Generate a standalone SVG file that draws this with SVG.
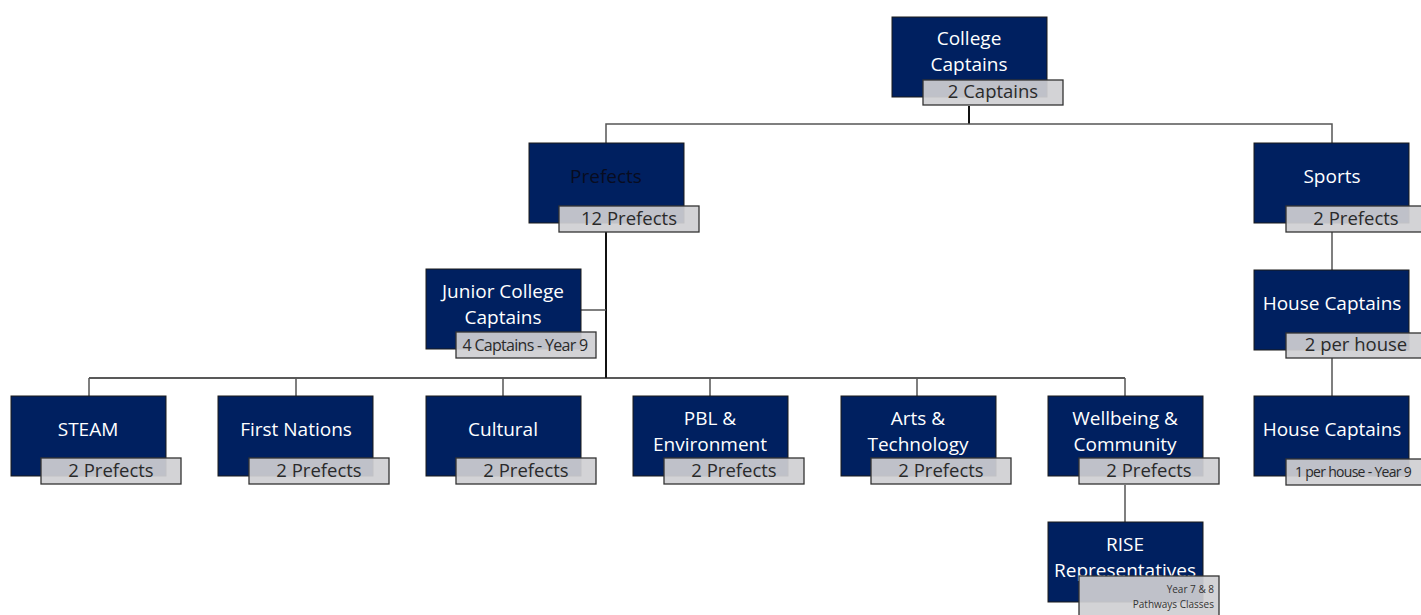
<svg xmlns="http://www.w3.org/2000/svg" width="1421" height="615" viewBox="0 0 1421 615">
<style>
.box{fill:#002060;stroke:#1a1a1a;stroke-width:1}
.lab{fill:#cfcfd2;fill-opacity:0.92;stroke:#333;stroke-width:1.3}
.t{font-family:"Open Sans","Liberation Sans",sans-serif;font-size:19px;fill:#fff;text-anchor:middle}
.l{font-family:"Open Sans","Liberation Sans",sans-serif;font-size:18.5px;fill:#2a2a2a;text-anchor:middle}
.s{font-family:"Open Sans","Liberation Sans",sans-serif;font-size:16px;fill:#2a2a2a;text-anchor:middle;letter-spacing:-0.7px}
.xs{font-family:"Open Sans","Liberation Sans",sans-serif;font-size:10px;fill:#333;text-anchor:end}
.c{fill:none;stroke:#555;stroke-width:1.5}
.k{fill:none;stroke:#111;stroke-width:2}
</style>
<g id="connectors">
<path class="k" d="M969 106V124"/>
<path class="c" d="M606 143V124H1332V143"/>
<path class="k" d="M606 232V378"/>
<path class="c" d="M580 310H606"/>
<path class="k" d="M89 378H1125" style="stroke-width:1.6;stroke:#222"/>
<path class="c" d="M89 378V396M296 378V396M503 378V396M710 378V396M917 378V396M1125 378V396"/>
<path class="c" d="M1125 485V522"/>
<path class="c" d="M1332 232V270M1332 358V396"/>
</g>
<g id="college-captains">
<rect class="box" x="892" y="17" width="155" height="80"/>
<text class="t" x="969" y="45">College</text>
<text class="t" x="969" y="71">Captains</text>
<rect class="lab" x="923" y="80" width="140" height="25"/>
<text class="l" x="993" y="98">2 Captains</text>
</g>
<g id="prefects">
<rect class="box" x="529" y="143" width="155" height="80"/>
<text class="t" x="606" y="183" style="fill:#080c20">Prefects</text>
<rect class="lab" x="559" y="206" width="140" height="26"/>
<text class="l" x="629" y="225">12 Prefects</text>
</g>
<g id="sports">
<rect class="box" x="1254" y="143" width="155" height="80"/>
<text class="t" x="1332" y="183">Sports</text>
<rect class="lab" x="1286" y="206" width="140" height="26"/>
<text class="l" x="1356" y="225">2 Prefects</text>
</g>
<g id="junior-college-captains">
<rect class="box" x="426" y="269" width="155" height="80"/>
<text class="t" x="503" y="298">Junior College</text>
<text class="t" x="503" y="324">Captains</text>
<rect class="lab" x="456" y="332" width="140" height="26"/>
<text class="s" x="525" y="351">4 Captains - Year 9</text>
</g>
<g id="house-captains-1">
<rect class="box" x="1254" y="270" width="155" height="80"/>
<text class="t" x="1332" y="310">House Captains</text>
<rect class="lab" x="1286" y="333" width="140" height="25"/>
<text class="l" x="1356" y="351">2 per house</text>
</g>
<g id="house-captains-2">
<rect class="box" x="1254" y="396" width="155" height="80"/>
<text class="t" x="1332" y="436">House Captains</text>
<rect class="lab" x="1286" y="459" width="140" height="26"/>
<text class="s" x="1353" y="477" style="font-size:14px;letter-spacing:-0.7px">1 per house - Year 9</text>
</g>
<g id="steam">
<rect class="box" x="11" y="396" width="155" height="80"/>
<text class="t" x="88" y="436">STEAM</text>
<rect class="lab" x="41" y="458" width="140" height="26"/>
<text class="l" x="111" y="477">2 Prefects</text>
</g>
<g id="first-nations">
<rect class="box" x="218" y="396" width="155" height="80"/>
<text class="t" x="296" y="436">First Nations</text>
<rect class="lab" x="249" y="458" width="140" height="26"/>
<text class="l" x="319" y="477">2 Prefects</text>
</g>
<g id="cultural">
<rect class="box" x="426" y="396" width="155" height="80"/>
<text class="t" x="503" y="436">Cultural</text>
<rect class="lab" x="456" y="458" width="140" height="26"/>
<text class="l" x="526" y="477">2 Prefects</text>
</g>
<g id="pbl-environment">
<rect class="box" x="633" y="396" width="155" height="80"/>
<text class="t" x="710" y="425">PBL &amp;</text>
<text class="t" x="710" y="451">Environment</text>
<rect class="lab" x="664" y="458" width="140" height="26"/>
<text class="l" x="734" y="477">2 Prefects</text>
</g>
<g id="arts-technology">
<rect class="box" x="841" y="396" width="155" height="80"/>
<text class="t" x="918" y="425">Arts &amp;</text>
<text class="t" x="918" y="451">Technology</text>
<rect class="lab" x="871" y="458" width="140" height="26"/>
<text class="l" x="941" y="477">2 Prefects</text>
</g>
<g id="wellbeing-community">
<rect class="box" x="1048" y="396" width="155" height="80"/>
<text class="t" x="1125" y="425">Wellbeing &amp;</text>
<text class="t" x="1125" y="451">Community</text>
<rect class="lab" x="1079" y="458" width="140" height="26"/>
<text class="l" x="1149" y="477">2 Prefects</text>
</g>
<g id="rise-representatives">
<rect class="box" x="1048" y="522" width="155" height="80"/>
<text class="t" x="1125" y="551">RISE</text>
<text class="t" x="1125" y="577">Representatives</text>
<rect class="lab" x="1079" y="576" width="140" height="44"/>
<text class="xs" x="1214" y="593">Year  7 &amp; 8</text>
<text class="xs" x="1214" y="608">Pathways Classes</text>
</g>
</svg>
